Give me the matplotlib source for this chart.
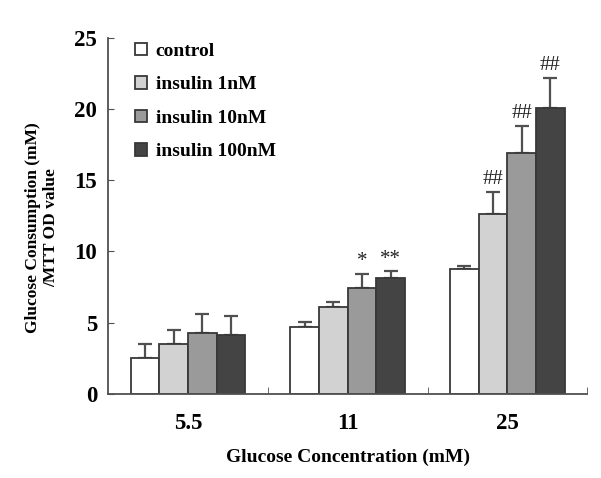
import matplotlib.pyplot as plt
import numpy as np

plt.rcParams['font.family'] = ['Liberation Serif', 'DejaVu Serif']

groups = ['5.5', '11', '25']
series = ['control', 'insulin 1nM', 'insulin 10nM', 'insulin 100nM']
means = [[2.5, 4.7, 8.8],
         [3.5, 6.1, 12.6],
         [4.3, 7.4, 16.9],
         [4.1, 8.1, 20.1]]
errs = [[1.0, 0.35, 0.16],
        [1.0, 0.33, 1.6],
        [1.3, 1.05, 1.9],
        [1.4, 0.5, 2.1]]
marks = [['', '', ''],
         ['', '', '##'],
         ['', '*', '##'],
         ['', '**', '##']]
colors = ['white', '#d2d2d2', '#9a9a9a', '#444444']

fig = plt.figure(figsize=(6.01, 4.78), dpi=100)
ax = fig.add_axes([0.18, 0.176, 0.797, 0.745])

x = np.arange(len(groups))
w = 0.18
for i in range(len(series)):
    xs = x + (i - 1.5) * w
    ax.bar(xs, means[i], w, color=colors[i], edgecolor='#383838', linewidth=1.3,
           label=series[i], zorder=2)
    ax.errorbar(xs, means[i], yerr=[np.zeros(3), errs[i]], fmt='none',
                ecolor='#505050', elinewidth=1.6, capsize=5, capthick=1.6, zorder=1)
    for j in range(3):
        if marks[i][j]:
            ax.text(xs[j], means[i][j] + errs[i][j] + 0.2, marks[i][j],
                    ha='center', va='bottom', fontsize=15, color='#222222')

ax.set_xlim(-0.5, 2.5)
ax.set_ylim(0, 25)
ax.set_yticks([0, 5, 10, 15, 20, 25])
ax.set_xticks(x)
ax.set_xticklabels(groups)
ax.set_xticks([0.5, 1.5, 2.5], minor=True)
ax.tick_params(axis='x', which='major', length=0, pad=14)
ax.tick_params(axis='x', which='minor', direction='in', length=5, color='#505050')
ax.tick_params(axis='y', direction='in', length=4, color='#505050', pad=8)
for lab in ax.get_xticklabels() + ax.get_yticklabels():
    lab.set_fontsize(16.5)
    lab.set_fontweight('bold')

for s in ['top', 'right']:
    ax.spines[s].set_visible(False)
for s in ['left', 'bottom']:
    ax.spines[s].set_color('#505050')
    ax.spines[s].set_linewidth(1.3)

ax.set_xlabel('Glucose Concentration (mM)', fontsize=14, fontweight='bold', labelpad=10)
ax.set_ylabel('Glucose Consumption (mM)\n/MTT OD value', fontsize=12.5,
              fontweight='bold', multialignment='center')
ax.yaxis.set_label_coords(-0.102, 0.466)

ax.legend(loc='upper left', bbox_to_anchor=(0.02, 1.035), frameon=False,
          handlelength=0.6, handleheight=0.6, handletextpad=0.45,
          labelspacing=0.85, prop={'size': 14, 'weight': 'bold'})

fig.savefig('out.png', dpi=100)
